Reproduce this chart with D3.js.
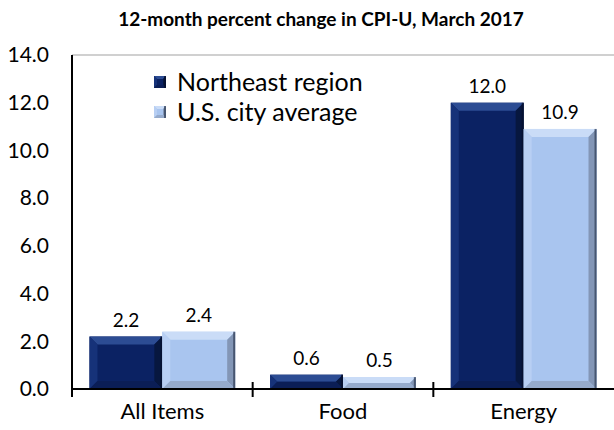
<!DOCTYPE html>
<html>
<head>
<meta charset="utf-8">
<script src="https://cdn.jsdelivr.net/npm/d3@7"></script>
<style>
	body { margin: 0; background: #fff; }
	svg text { font-family: Lato, "Open Sans", sans-serif; fill: #000; }
</style>
</head>
<body>
<svg id="chart"></svg>
<script>
const categories = ["All Items", "Food", "Energy"];
const seriesNames = ["Northeast region", "U.S. city average"];
const northeast = [2.2, 0.6, 12.0];
const usAverage = [2.4, 0.5, 10.9];
const tickValues = [0, 2, 4, 6, 8, 10, 12, 14];

const svgwidth = 614;
const svgheight = 430;
const svg = d3.select('#chart')
		.attr("width", svgwidth)
		.attr("height", svgheight);

const plot = {left: 72, right: 614, top: 55, bottom: 389};

// bevel colours per series: face, top, left, right, bottom
const palettes = [
	{face: "#0b2263", top: "#2c4c93", left: "#163279", right: "#07173f", bottom: "#0b1e56", edge: "#050f2c"},
	{face: "#a9c5ef", top: "#cadcf7", left: "#b8cff3", right: "#8396b6", bottom: "#96abcc", edge: "#2e3a52"}
];

const x = d3.scaleBand()
	.domain(categories)
	.range([plot.left, plot.right])
	.paddingInner(0)
	.paddingOuter(0);

const xInner = d3.scaleBand()
	.domain(seriesNames)
	.range([0, x.bandwidth()])
	.paddingInner(0)
	.paddingOuter(0.24);

const y = d3.scaleLinear()
	.domain([0, 14])
	.range([plot.bottom, plot.top]);

// title
svg.append("text")
	.attr("x", 321)
	.attr("y", 26)
	.attr("text-anchor", "middle")
	.style("font-weight", "bold")
	.style("font-size", "19px")
	.text("12-month percent change in CPI-U, March 2017");

// top border of plot area
svg.append("line")
	.attr("x1", plot.left).attr("x2", plot.right)
	.attr("y1", plot.top).attr("y2", plot.top)
	.style("stroke", "#c0c0c0")
	.style("stroke-width", "1.5px");

function bevelBar(g, x0, y0, w, h, pal, b) {
	b = Math.min(b, h / 2, w / 2);
	const x1 = x0 + w, y1 = y0 + h;
	g.append("rect")
		.attr("x", x0).attr("y", y0)
		.attr("width", w).attr("height", h)
		.style("fill", pal.face);
	const poly = (pts, fill) => g.append("polygon")
		.attr("points", pts.map(p => p.join(",")).join(" "))
		.style("fill", fill);
	poly([[x0, y0], [x1, y0], [x1 - b, y0 + b], [x0 + b, y0 + b]], pal.top);
	poly([[x0, y0], [x0 + b, y0 + b], [x0 + b, y1 - b], [x0, y1]], pal.left);
	poly([[x1, y0], [x1, y1], [x1 - b, y1 - b], [x1 - b, y0 + b]], pal.right);
	poly([[x0, y1], [x0 + b, y1 - b], [x1 - b, y1 - b], [x1, y1]], pal.bottom);
	// dark edge on the right
	g.append("rect")
		.attr("x", x1 - 2).attr("y", y0)
		.attr("width", 2).attr("height", h)
		.style("fill", pal.edge)
		.style("opacity", 0.7);
}

const series = [northeast, usAverage];

const groups = svg.selectAll(".cat")
	.data(categories)
	.enter().append("g")
	.attr("class", "cat")
	.attr("transform", d => "translate(" + x(d) + ",0)");

groups.each(function(cat, i) {
	const g = d3.select(this);
	seriesNames.forEach((s, j) => {
		const v = series[j][i];
		const bx = xInner(s);
		const by = y(v);
		bevelBar(g.append("g"), bx, by, xInner.bandwidth(), y(0) - by, palettes[j], 8);
		g.append("text")
			.attr("x", bx + xInner.bandwidth() / 2)
			.attr("y", by - 10)
			.attr("text-anchor", "middle")
			.style("font-size", "19px")
			.text(v.toFixed(1));
	});
});

// y axis
svg.append("line")
	.attr("x1", plot.left).attr("x2", plot.left)
	.attr("y1", plot.top).attr("y2", plot.bottom + 8)
	.style("stroke", "#000")
	.style("stroke-width", "2px");

svg.selectAll(".ytick")
	.data(tickValues)
	.enter().append("text")
	.attr("class", "ytick")
	.attr("x", plot.left - 23)
	.attr("y", d => y(d))
	.attr("dy", "0.35em")
	.attr("text-anchor", "end")
	.style("font-size", "21px")
	.text(d => d.toFixed(1));

// x axis
svg.append("line")
	.attr("x1", plot.left).attr("x2", plot.right)
	.attr("y1", plot.bottom).attr("y2", plot.bottom)
	.style("stroke", "#000")
	.style("stroke-width", "2px");

svg.selectAll(".xtick")
	.data(categories.slice(1))
	.enter().append("line")
	.attr("class", "xtick")
	.attr("x1", d => x(d)).attr("x2", d => x(d))
	.attr("y1", plot.bottom - 7).attr("y2", plot.bottom + 8)
	.style("stroke", "#000")
	.style("stroke-width", "2px");

svg.selectAll(".xlabel")
	.data(categories)
	.enter().append("text")
	.attr("class", "xlabel")
	.attr("x", d => x(d) + x.bandwidth() / 2)
	.attr("y", 411)
	.attr("dy", "0.35em")
	.attr("text-anchor", "middle")
	.style("font-size", "22px")
	.text(d => d);

// legend
const legend = svg.selectAll(".legend")
	.data(seriesNames)
	.enter().append("g")
	.attr("class", "legend")
	.attr("transform", (d, i) => "translate(154," + (76 + i * 30) + ")");

legend.each(function(d, i) {
	bevelBar(d3.select(this), 0, 0, 12, 12, palettes[i], 3);
});

legend.append("text")
	.attr("x", 23)
	.attr("y", 6)
	.attr("dy", "0.35em")
	.style("font-size", "25px")
	.text(d => d);
</script>
</body>
</html>
